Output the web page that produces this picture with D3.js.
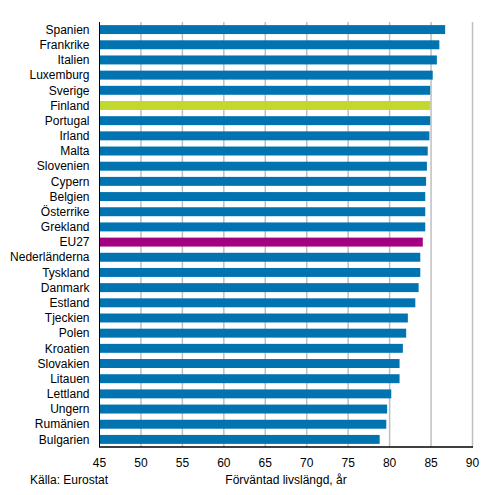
<!DOCTYPE html>
<html>
<head>
<meta charset="utf-8">
<script src="https://cdn.jsdelivr.net/npm/d3@7"></script>
<style>
  html, body { margin: 0; padding: 0; background: #fff; }
  text { font-family: "Liberation Sans", Arial, sans-serif; font-size: 12px; fill: #000; }
</style>
</head>
<body>
<svg id="chart" width="489" height="495"></svg>
<script>
const countries = ["Spanien","Frankrike","Italien","Luxemburg","Sverige","Finland","Portugal","Irland","Malta","Slovenien","Cypern","Belgien","Österrike","Grekland","EU27","Nederländerna","Tyskland","Danmark","Estland","Tjeckien","Polen","Kroatien","Slovakien","Litauen","Lettland","Ungern","Rumänien","Bulgarien"];
const values = [86.7,86.0,85.7,85.2,84.9,84.9,84.9,84.8,84.6,84.5,84.4,84.3,84.3,84.3,84.0,83.7,83.7,83.5,83.1,82.2,82.0,81.6,81.2,81.2,80.2,79.7,79.6,78.8];
const xTicks = [45,50,55,60,65,70,75,80,85,90];
const highlight = {"Finland": "#c2d82f", "EU27": "#a3007f"};
const sourceText = "Källa: Eurostat";
const axisTitle = "Förväntad livslängd, år";

(function () {
const svg = d3.select("#chart");
const mLeft = 99.5, mRight = 472.5, mTop = 22, mBottom = 447;

const x = d3.scaleLinear().domain([45, 90]).range([mLeft, mRight]);
const y = d3.scaleBand().domain(countries).range([mTop, mBottom]).paddingInner(0.41).paddingOuter(0.205);

// gridlines
svg.append("g").selectAll("line").data(xTicks.filter(t => t > 45)).join("line")
  .attr("x1", d => x(d)).attr("x2", d => x(d))
  .attr("y1", mTop).attr("y2", mBottom)
  .attr("stroke", "#bfbfbf").attr("stroke-width", 1.5);

// bars
const data = countries.map((c, i) => ({c, v: values[i]}));
svg.append("g").selectAll("rect").data(data).join("rect")
  .attr("x", x(45))
  .attr("y", d => y(d.c))
  .attr("width", d => x(d.v) - x(45))
  .attr("height", y.bandwidth())
  .attr("fill", d => highlight[d.c] || "#0073b0");

// axes lines
svg.append("line").attr("x1", mLeft).attr("x2", mLeft).attr("y1", mTop).attr("y2", mBottom + 0.5)
  .attr("stroke", "#000").attr("stroke-width", 1);
svg.append("line").attr("x1", mLeft).attr("x2", mRight + 0.5).attr("y1", mBottom).attr("y2", mBottom)
  .attr("stroke", "#000").attr("stroke-width", 1.5);

// category labels
svg.append("g").selectAll("text").data(countries).join("text")
  .attr("x", 89.5)
  .attr("y", d => y(d) + y.bandwidth() / 2)
  .attr("dy", "0.35em")
  .attr("text-anchor", "end")
  .text(d => d);

// tick labels
svg.append("g").selectAll("text").data(xTicks).join("text")
  .attr("x", d => x(d))
  .attr("y", 467)
  .attr("text-anchor", "middle")
  .text(d => d);

svg.append("text").attr("x", 30).attr("y", 484).text(sourceText);
svg.append("text").attr("x", (mLeft + mRight) / 2).attr("y", 484).attr("text-anchor", "middle").text(axisTitle);
})();
</script>
</body>
</html>
